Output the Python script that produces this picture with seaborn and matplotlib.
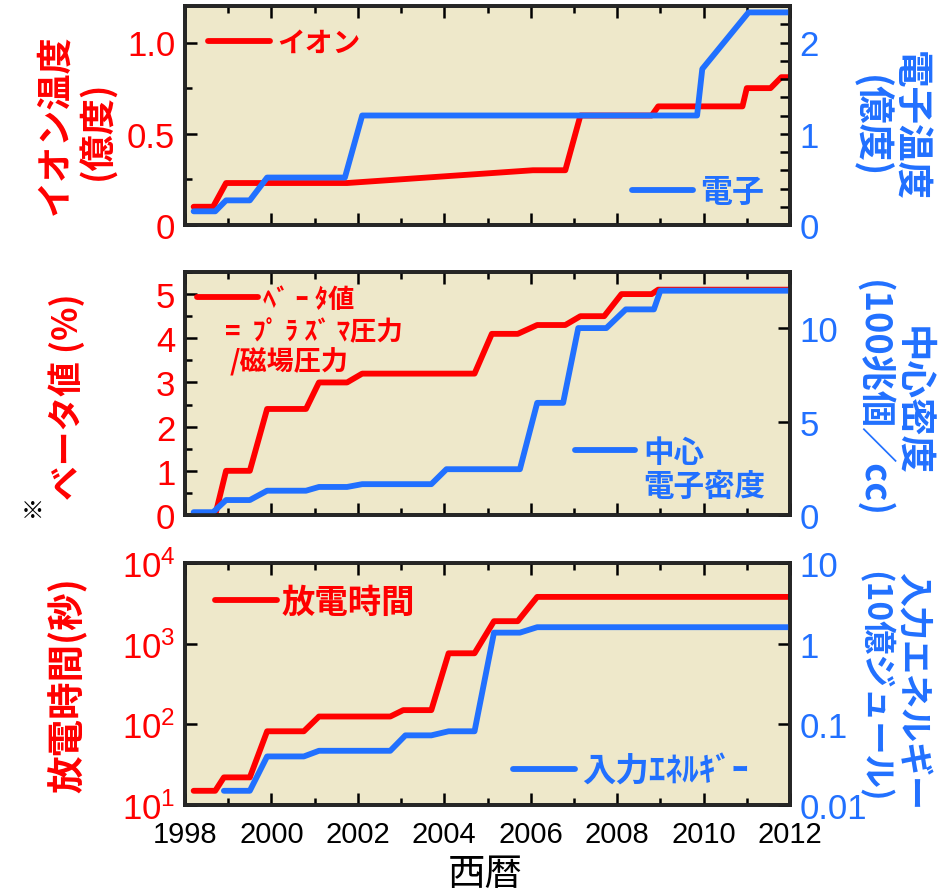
import matplotlib
matplotlib.use("Agg")
import matplotlib.pyplot as plt
import numpy as np
import pandas as pd
import seaborn as sns
from matplotlib.ticker import (MultipleLocator, FixedLocator, FuncFormatter, NullLocator,
                               LogFormatterSciNotation)

# ---- data: yearly records ----
# ion temperature (100 million degrees) and electron temperature (100 million degrees)
ion_year = [1998.2, 1998.65, 1998.95, 2001.75, 2006.05, 2006.8, 2007.15, 2008.8, 2008.95,
            2010.9, 2011.0, 2011.55, 2011.8, 2012.0]
ion_temp = [0.10, 0.10, 0.23, 0.23, 0.30, 0.30, 0.60, 0.60, 0.65,
            0.65, 0.75, 0.75, 0.81, 0.81]
ele_year = [1998.2, 1998.7, 1998.95, 1999.5, 1999.9, 2001.7, 2002.1, 2009.85, 2009.97,
            2011.04, 2012.0]
ele_temp = [0.15, 0.15, 0.27, 0.27, 0.52, 0.52, 1.2, 1.2, 1.71, 2.33, 2.33]

# beta value (%) and central electron density (10^14 / cc)
beta_year = [1998.2, 1998.7, 1998.95, 1999.5, 1999.9, 2000.8, 2001.1, 2001.75, 2002.1,
             2004.7, 2005.1, 2005.7, 2006.15, 2006.8, 2007.15, 2007.7, 2008.1, 2008.8,
             2008.95, 2012.0]
beta_val = [0.0, 0.0, 1.0, 1.0, 2.4, 2.4, 3.0, 3.0, 3.2,
            3.2, 4.1, 4.1, 4.3, 4.3, 4.5, 4.5, 5.0, 5.0,
            5.1, 5.1]
dens_year = [1998.2, 1998.65, 1998.95, 1999.5, 1999.9, 2000.8, 2001.1, 2001.75, 2002.1,
             2003.7, 2004.05, 2005.75, 2006.15, 2006.75, 2007.1, 2007.75, 2008.2, 2008.85,
             2009.0, 2012.0]
dens_val = [0.15, 0.15, 0.8, 0.8, 1.3, 1.3, 1.5, 1.5, 1.65,
            1.65, 2.45, 2.45, 6.0, 6.0, 10.0, 10.0, 11.0, 11.0,
            12.0, 12.0]

# discharge duration (s) and input energy (GJ)
dur_year = [1998.2, 1998.7, 1998.9, 1999.5, 1999.9, 2000.75, 2001.1, 2002.75, 2003.05,
            2003.7, 2004.1, 2004.7, 2005.15, 2005.7, 2006.15, 2012.0]
dur_val = [15, 15, 22, 22, 82, 82, 125, 125, 150,
           150, 760, 760, 1900, 1900, 3800, 3800]
en_year = [1998.9, 1999.5, 1999.9, 2000.75, 2001.1, 2002.75, 2003.1, 2003.7, 2004.1,
           2004.7, 2005.15, 2005.75, 2006.15, 2012.0]
en_val = [0.015, 0.015, 0.04, 0.04, 0.047, 0.047, 0.073, 0.073, 0.082,
          0.082, 1.37, 1.37, 1.6, 1.6]

x_ticks = [1998, 2000, 2002, 2004, 2006, 2008, 2010, 2012]

# ---- style ----
sns.set_theme(style="ticks")
plt.rcParams["font.family"] = ["Liberation Sans", "Noto Sans CJK JP", "DejaVu Sans"]
plt.rcParams["mathtext.fontset"] = "custom"
plt.rcParams["mathtext.rm"] = "Liberation Sans"
plt.rcParams["mathtext.it"] = "Liberation Sans:italic"
plt.rcParams["mathtext.bf"] = "Liberation Sans:bold"

RED = "#FF0000"
BLUE = "#2170FF"
BG = "#EEE8CA"
JP = ["Noto Sans CJK JP", "DejaVu Sans"]
LW = 4.2
YTICK_SIZE = 25

W, H = 950, 895
fig = plt.figure(figsize=(W / 100, H / 100), dpi=100)


def px_axes(left, top, right, bottom):
    return fig.add_axes([left / W, 1 - bottom / H, (right - left) / W, (bottom - top) / H])


def fx(x):
    return x / W


def fy(y):
    return 1 - y / H


def style_frame(ax, labels):
    ax.set_facecolor(BG)
    ax.set_xlim(1998, 2012)
    ax.xaxis.set_major_locator(FixedLocator(x_ticks))
    ax.xaxis.set_minor_locator(MultipleLocator(1))
    ax.tick_params(axis="x", which="both", direction="in", top=True, bottom=True,
                   width=1.8, color="black")
    ax.tick_params(axis="x", which="major", length=8.5)
    ax.tick_params(axis="x", which="minor", length=5)
    ax.tick_params(axis="x", labelbottom=labels, labelsize=21, pad=11, labelcolor="black")
    for s in ax.spines.values():
        s.set_linewidth(2.6)
        s.set_color("black")
    ax.set_xlabel("")
    ax.set_ylabel("")


def style_y(ax, color):
    ax.tick_params(axis="y", which="both", direction="in", width=1.8, color="black",
                   labelsize=YTICK_SIZE, labelcolor=color, pad=7)
    ax.tick_params(axis="y", which="major", length=8.5)
    ax.tick_params(axis="y", which="minor", length=5)
    ax.set_ylabel("")


def legend_at(ax, x_px, y_px, handle_px, gap_px, size, color):
    em = size * 100 / 72
    ax.legend(loc="center left", bbox_to_anchor=(fx(x_px), fy(y_px)),
              bbox_transform=fig.transFigure, frameon=False, borderpad=0,
              borderaxespad=0, handlelength=handle_px / em, handletextpad=gap_px / em,
              prop=dict(family=JP, size=size, weight="bold"), labelcolor=color)


def note(x_px, y_px, s, color, size, **kw):
    fig.text(fx(x_px), fy(y_px), s, color=color, size=size, family=JP, weight="bold",
             va="center", **kw)


# ---- panel 1: temperatures ----
ax1 = px_axes(185, 7, 790, 226)
ax1r = ax1.twinx()
sns.lineplot(data=pd.DataFrame({"year": ion_year, "v": ion_temp}), x="year", y="v",
             ax=ax1, color=RED, linewidth=LW, label="イオン", estimator=None, sort=False)
sns.lineplot(data=pd.DataFrame({"year": ele_year, "v": ele_temp}), x="year", y="v",
             ax=ax1r, color=BLUE, linewidth=LW, label="電子", estimator=None, sort=False)
style_frame(ax1, False)
ax1.set_ylim(0, 1.2)
ax1.yaxis.set_major_locator(FixedLocator([0, 0.5, 1.0]))
ax1.yaxis.set_minor_locator(FixedLocator([0.25, 0.75]))
ax1.yaxis.set_major_formatter(FuncFormatter(lambda v, p: "0" if v == 0 else f"{v:.1f}"))
style_y(ax1, RED)
ax1r.set_ylim(0, 2.4)
ax1r.yaxis.set_major_locator(FixedLocator([0, 1, 2]))
ax1r.yaxis.set_minor_locator(MultipleLocator(0.2))
ax1r.yaxis.set_major_formatter(FuncFormatter(lambda v, p: f"{v:g}"))
style_y(ax1r, BLUE)
ax1r.tick_params(axis="y", which="both", length=7)
for s in ax1r.spines.values():
    s.set_linewidth(2.6)
legend_at(ax1, 208, 44, 62, 7, 20, RED)
legend_at(ax1r, 632, 193, 61, 7, 23, BLUE)

# ---- panel 2: beta and density ----
ax2 = px_axes(185, 273, 790, 516)
ax2r = ax2.twinx()
sns.lineplot(data=pd.DataFrame({"year": beta_year, "v": beta_val}), x="year", y="v",
             ax=ax2, color=RED, linewidth=LW, label="ﾍﾞ ｰ ﾀ値", estimator=None, sort=False)
sns.lineplot(data=pd.DataFrame({"year": dens_year, "v": dens_val}), x="year", y="v",
             ax=ax2r, color=BLUE, linewidth=LW, label="中心", estimator=None, sort=False)
style_frame(ax2, False)
ax2.set_ylim(0, 5.5)
ax2.yaxis.set_major_locator(MultipleLocator(1))
ax2.yaxis.set_minor_locator(MultipleLocator(0.5))
style_y(ax2, RED)
ax2r.set_ylim(0, 13)
ax2r.yaxis.set_major_locator(MultipleLocator(5))
ax2r.yaxis.set_minor_locator(NullLocator())
style_y(ax2r, BLUE)
for s in ax2r.spines.values():
    s.set_linewidth(2.6)
legend_at(ax2, 197, 300, 61, 5, 19, RED)
legend_at(ax2r, 575, 453, 60, 8, 22, BLUE)
note(225, 333, "=  ﾌﾟ ﾗ ｽﾞ ﾏ圧力", RED, 19, ha="left")
note(230, 362, "/磁場圧力", RED, 19.5, ha="left")
note(643, 487, "電子密度", BLUE, 22, ha="left")

# ---- panel 3: discharge duration and input energy ----
ax3 = px_axes(185, 564, 790, 806)
ax3r = ax3.twinx()
sns.lineplot(data=pd.DataFrame({"year": dur_year, "v": dur_val}), x="year", y="v",
             ax=ax3, color=RED, linewidth=LW, label="放電時間", estimator=None, sort=False)
sns.lineplot(data=pd.DataFrame({"year": en_year, "v": en_val}), x="year", y="v",
             ax=ax3r, color=BLUE, linewidth=LW, label="入力ｴﾈﾙｷﾞｰ", estimator=None, sort=False)
style_frame(ax3, True)
ax3.set_yscale("log")
ax3.set_ylim(10, 1e4)
ax3.yaxis.set_major_locator(FixedLocator([10, 100, 1000, 10000]))
ax3.yaxis.set_major_formatter(LogFormatterSciNotation())
ax3.yaxis.set_minor_locator(NullLocator())
style_y(ax3, RED)
ax3r.set_yscale("log")
ax3r.set_ylim(0.01, 10)
ax3r.yaxis.set_major_locator(FixedLocator([0.01, 0.1, 1, 10]))
ax3r.yaxis.set_minor_locator(NullLocator())
ax3r.yaxis.set_major_formatter(FuncFormatter(lambda v, p: f"{v:g}"))
style_y(ax3r, BLUE)
for s in ax3r.spines.values():
    s.set_linewidth(2.6)
legend_at(ax3, 215, 603, 62, 5, 24, RED)
legend_at(ax3r, 513, 772, 62, 7, 24, BLUE)

# ---- axis titles (one rotated text per column) ----
note(55, 125, "イオン温度", RED, 26, rotation=90, ha="center")
note(97, 130, "(億度)", RED, 26, rotation=90, ha="center")
note(910, 126, "電子温度", BLUE, 27, rotation=270, ha="center")
note(870, 127, "(億度)", BLUE, 27, rotation=270, ha="center")
note(67, 397, "ベータ値 (%)", RED, 25, rotation=90, ha="center")
fig.text(fx(33), fy(512), "※", color="black", size=17, family=JP, ha="center", va="center")
note(913, 401, "中心密度", BLUE, 27, rotation=270, ha="center")
note(872, 399, "(100兆個／cc)", BLUE, 26, rotation=270, ha="center")
note(68, 685, "放電時間(秒)", RED, 27, rotation=90, ha="center")
note(912, 691, "入力エネルギー", BLUE, 24.5, rotation=270, ha="center")
note(874, 687, "(10億ジュール)", BLUE, 24, rotation=270, ha="center")
fig.text(fx(485), fy(875), "西暦", color="black", size=27, family=JP, ha="center",
         va="center")

fig.savefig("out.png", dpi=100)
